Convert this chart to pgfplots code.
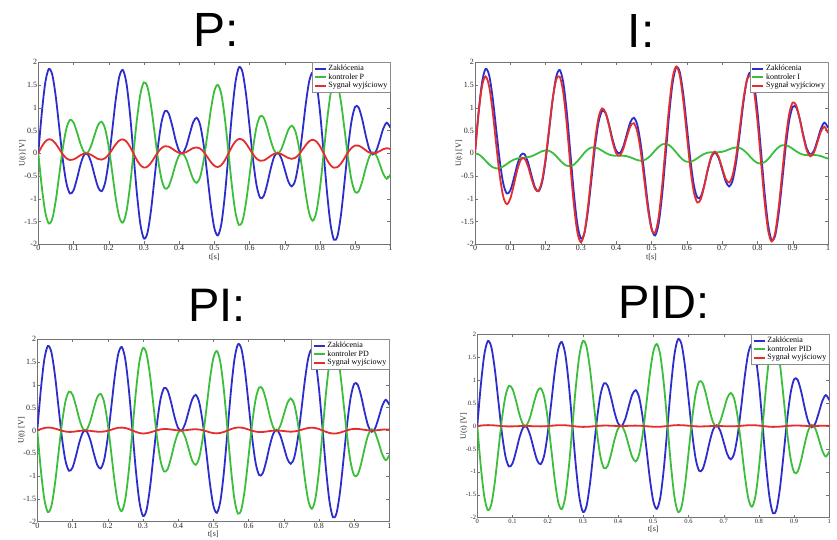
\documentclass[border=0pt]{standalone}
\usepackage{fontspec}
\setmainfont{Liberation Serif}
\newfontfamily\titlefont{Liberation Sans}
\usepackage{pgfplots}
\usepackage{pgfplotstable}
\pgfplotsset{compat=1.18}
\definecolor{mblue}{RGB}{45,45,205}
\definecolor{mgreen}{RGB}{60,190,60}
\definecolor{mred}{RGB}{228,45,45}

\pgfplotstableread{
t x gP rP gI rI gPI rPI gPID rPID
0.00 0 0 0 0 0 0 0 0 0
0.01 0.891 -0.742 0.149 -0.023 0.868 -0.860 0.031 -0.882 0.009
0.02 1.561 -1.301 0.260 -0.083 1.479 -1.506 0.055 -1.545 0.016
0.03 1.853 -1.544 0.309 -0.164 1.690 -1.788 0.065 -1.834 0.019
0.04 1.718 -1.431 0.286 -0.244 1.473 -1.658 0.060 -1.701 0.017
0.05 1.223 -1.019 0.204 -0.305 0.918 -1.180 0.043 -1.211 0.012
0.06 0.531 -0.442 0.089 -0.333 0.198 -0.512 0.019 -0.526 0.005
0.07 -0.157 0.131 -0.026 -0.326 -0.483 0.152 -0.005 0.155 -0.002
0.08 -0.662 0.551 -0.111 -0.289 -0.951 0.639 -0.023 0.655 -0.007
0.09 -0.883 0.735 -0.147 -0.236 -1.118 0.852 -0.031 0.874 -0.009
0.10 -0.815 0.679 -0.136 -0.182 -0.997 0.786 -0.029 0.807 -0.008
0.11 -0.554 0.461 -0.093 -0.139 -0.693 0.535 -0.019 0.548 -0.006
0.12 -0.245 0.204 -0.041 -0.113 -0.358 0.236 -0.009 0.243 -0.002
0.13 -0.036 0.030 -0.006 -0.101 -0.137 0.035 -0.001 0.036 0
0.14 -0.018 0.015 -0.003 -0.096 -0.114 0.017 -0.001 0.018 0
0.15 -0.195 0.162 -0.033 -0.087 -0.282 0.188 -0.007 0.193 -0.002
0.16 -0.487 0.406 -0.081 -0.066 -0.553 0.470 -0.017 0.482 -0.005
0.17 -0.749 0.624 -0.125 -0.032 -0.781 0.723 -0.026 0.742 -0.007
0.18 -0.833 0.694 -0.139 0.009 -0.824 0.804 -0.029 0.825 -0.008
0.19 -0.641 0.534 -0.107 0.046 -0.595 0.619 -0.022 0.635 -0.006
0.20 -0.164 0.137 -0.027 0.064 -0.100 0.158 -0.006 0.162 -0.002
0.21 0.499 -0.416 0.083 0.053 0.552 -0.482 0.017 -0.494 0.005
0.22 1.181 -0.984 0.197 0.009 1.190 -1.140 0.041 -1.169 0.012
0.23 1.680 -1.399 0.281 -0.062 1.617 -1.621 0.059 -1.663 0.017
0.24 1.831 -1.525 0.306 -0.147 1.684 -1.767 0.064 -1.813 0.018
0.25 1.560 -1.299 0.261 -0.224 1.336 -1.505 0.055 -1.544 0.016
0.26 0.907 -0.755 0.151 -0.274 0.632 -0.875 0.032 -0.898 0.009
0.27 0.023 -0.019 0.004 -0.284 -0.261 -0.022 0.001 -0.023 0
0.28 -0.871 0.726 -0.145 -0.249 -1.120 0.841 -0.030 0.862 -0.009
0.29 -1.559 1.299 -0.260 -0.176 -1.735 1.504 -0.055 1.543 -0.016
0.30 -1.872 1.559 -0.313 -0.082 -1.954 1.806 -0.066 1.853 -0.019
0.31 -1.754 1.461 -0.293 0.012 -1.741 1.693 -0.061 1.736 -0.018
0.32 -1.265 1.054 -0.211 0.087 -1.178 1.221 -0.044 1.252 -0.013
0.33 -0.564 0.470 -0.094 0.127 -0.437 0.544 -0.020 0.558 -0.006
0.34 0.147 -0.122 0.025 0.131 0.278 -0.142 0.005 -0.146 0.001
0.35 0.682 -0.568 0.114 0.103 0.785 -0.658 0.024 -0.675 0.007
0.36 0.930 -0.775 0.155 0.057 0.987 -0.897 0.033 -0.921 0.009
0.37 0.882 -0.735 0.147 0.009 0.891 -0.851 0.031 -0.873 0.009
0.38 0.621 -0.517 0.104 -0.028 0.593 -0.599 0.022 -0.615 0.006
0.39 0.294 -0.245 0.049 -0.049 0.245 -0.284 0.010 -0.291 0.003
0.40 0.056 -0.047 0.009 -0.055 0.001 -0.054 0.002 -0.055 0.001
0.41 0.001 -0.001 0 -0.053 -0.051 -0.001 0 -0.001 0
0.42 0.147 -0.122 0.025 -0.053 0.094 -0.142 0.005 -0.146 0.001
0.43 0.420 -0.350 0.070 -0.064 0.356 -0.405 0.015 -0.416 0.004
0.44 0.681 -0.567 0.114 -0.088 0.593 -0.657 0.024 -0.674 0.007
0.45 0.781 -0.651 0.130 -0.120 0.661 -0.754 0.027 -0.773 0.008
0.46 0.617 -0.514 0.103 -0.150 0.468 -0.595 0.022 -0.611 0.006
0.47 0.173 -0.144 0.029 -0.163 0.011 -0.167 0.006 -0.171 0.002
0.48 -0.466 0.388 -0.078 -0.148 -0.614 0.450 -0.016 0.461 -0.005
0.49 -1.137 0.947 -0.190 -0.101 -1.238 1.097 -0.040 1.126 -0.011
0.50 -1.640 1.366 -0.274 -0.027 -1.667 1.583 -0.057 1.624 -0.016
0.51 -1.806 1.504 -0.302 0.060 -1.747 1.743 -0.063 1.788 -0.018
0.52 -1.555 1.295 -0.260 0.140 -1.415 1.501 -0.054 1.539 -0.016
0.53 -0.921 0.767 -0.154 0.195 -0.725 0.889 -0.032 0.912 -0.009
0.54 -0.046 0.038 -0.008 0.210 0.164 0.044 -0.002 0.046 0
0.55 0.855 -0.712 0.143 0.179 1.034 -0.825 0.030 -0.846 0.009
0.56 1.557 -1.297 0.260 0.110 1.667 -1.503 0.054 -1.541 0.016
0.57 1.889 -1.574 0.315 0.019 1.908 -1.823 0.066 -1.870 0.019
0.58 1.787 -1.489 0.298 -0.073 1.714 -1.724 0.063 -1.769 0.018
0.59 1.305 -1.087 0.218 -0.147 1.159 -1.259 0.046 -1.292 0.013
0.60 0.597 -0.497 0.100 -0.186 0.411 -0.576 0.021 -0.591 0.006
0.61 -0.133 0.111 -0.022 -0.188 -0.321 0.128 -0.005 0.132 -0.001
0.62 -0.699 0.582 -0.117 -0.157 -0.856 0.675 -0.024 0.692 -0.007
0.63 -0.975 0.812 -0.163 -0.107 -1.083 0.941 -0.034 0.965 -0.010
0.64 -0.945 0.787 -0.158 -0.054 -0.999 0.912 -0.033 0.936 -0.009
0.65 -0.687 0.572 -0.115 -0.011 -0.698 0.663 -0.024 0.680 -0.007
0.66 -0.346 0.288 -0.058 0.015 -0.332 0.334 -0.012 0.343 -0.003
0.67 -0.077 0.064 -0.013 0.024 -0.053 0.074 -0.003 0.076 -0.001
0.68 0.014 -0.012 0.002 0.023 0.037 -0.014 0 -0.014 0
0.69 -0.101 0.084 -0.017 0.024 -0.078 0.097 -0.004 0.100 -0.001
0.70 -0.352 0.293 -0.059 0.033 -0.319 0.340 -0.012 0.348 -0.004
0.71 -0.614 0.511 -0.103 0.055 -0.558 0.592 -0.021 0.608 -0.006
0.72 -0.729 0.607 -0.122 0.086 -0.643 0.703 -0.026 0.722 -0.007
0.73 -0.592 0.493 -0.099 0.115 -0.477 0.571 -0.021 0.586 -0.006
0.74 -0.181 0.151 -0.030 0.129 -0.051 0.175 -0.006 0.179 -0.002
0.75 0.435 -0.362 0.073 0.117 0.552 -0.420 0.015 -0.431 0.004
0.76 1.092 -0.910 0.182 0.074 1.166 -1.054 0.038 -1.081 0.011
0.77 1.597 -1.330 0.267 0.004 1.601 -1.541 0.056 -1.581 0.016
0.78 1.779 -1.482 0.297 -0.080 1.698 -1.717 0.062 -1.761 0.018
0.79 1.549 -1.290 0.259 -0.159 1.390 -1.495 0.054 -1.534 0.015
0.80 0.934 -0.778 0.156 -0.213 0.721 -0.901 0.033 -0.925 0.009
0.81 0.068 -0.057 0.011 -0.228 -0.160 -0.066 0.002 -0.067 0.001
0.82 -0.836 0.696 -0.140 -0.197 -1.033 0.807 -0.029 0.828 -0.008
0.83 -1.550 1.291 -0.259 -0.128 -1.679 1.496 -0.054 1.535 -0.016
0.84 -1.902 1.584 -0.318 -0.036 -1.938 1.835 -0.067 1.883 -0.019
0.85 -1.816 1.513 -0.303 0.058 -1.758 1.752 -0.064 1.798 -0.018
0.86 -1.344 1.120 -0.224 0.134 -1.210 1.297 -0.047 1.331 -0.013
0.87 -0.629 0.524 -0.105 0.176 -0.453 0.607 -0.022 0.623 -0.006
0.88 0.123 -0.102 0.021 0.179 0.302 -0.119 0.004 -0.122 0.001
0.89 0.714 -0.595 0.119 0.149 0.863 -0.689 0.025 -0.707 0.007
0.90 1.019 -0.849 0.170 0.098 1.117 -0.983 0.036 -1.009 0.010
0.91 1.007 -0.839 0.168 0.043 1.050 -0.972 0.035 -0.997 0.010
0.92 0.753 -0.627 0.126 -0.003 0.750 -0.727 0.026 -0.745 0.008
0.93 0.400 -0.333 0.067 -0.031 0.369 -0.386 0.014 -0.396 0.004
0.94 0.100 -0.083 0.017 -0.041 0.059 -0.097 0.004 -0.099 0.001
0.95 -0.027 0.022 -0.005 -0.040 -0.067 0.026 -0.001 0.027 0
0.96 0.054 -0.045 0.009 -0.038 0.016 -0.052 0.002 -0.053 0.001
0.97 0.286 -0.238 0.048 -0.044 0.242 -0.276 0.010 -0.283 0.003
0.98 0.542 -0.451 0.091 -0.062 0.480 -0.523 0.019 -0.537 0.005
0.99 0.673 -0.561 0.112 -0.090 0.583 -0.649 0.024 -0.666 0.007
1.00 0.564 -0.470 0.094 -0.116 0.448 -0.544 0.020 -0.558 0.006
}\data

\pgfplotsset{
  panel/.style={
    scale only axis, width=352pt, height=182pt,
    xmin=0, xmax=1, ymin=-2, ymax=2,
    axis line style={black!55, line width=0.5pt},
    tick style={black!55, line width=0.4pt},
    tick align=inside, major tick length=3pt,
    xtick={0,0.1,0.2,0.3,0.4,0.5,0.6,0.7,0.8,0.9,1},
    xticklabels={0,0.1,0.2,0.3,0.4,0.5,0.6,0.7,0.8,0.9,1},
    ytick={-2,-1.5,-1,-0.5,0,0.5,1,1.5,2},
    yticklabels={-2,-1.5,-1,-0.5,0,0.5,1,1.5,2},
    tick label style={font=\fontsize{8}{9}\selectfont, inner sep=1pt, text=black!85},
    xlabel={t[s]}, ylabel={U(t) [V]},
    label style={font=\fontsize{8}{9}\selectfont, text=black!85},
    xlabel style={inner sep=0pt, yshift=-1.5pt},
    ylabel style={inner sep=0pt, yshift=-3pt},
    legend cell align=left,
    legend style={at={(1,1)}, anchor=north east, font=\fontsize{8}{9}\selectfont,
      draw=black!45, inner sep=1pt, outer sep=0pt, row sep=-2.5pt},
    legend image code/.code={\draw[##1, line width=1.8pt] (0pt,0pt) -- (11pt,0pt);},
    every axis plot/.append style={line width=1.8pt, smooth},
  }
}

\begin{document}
\begin{tikzpicture}[x=1pt,y=1pt]
\path[use as bounding box] (0,0) rectangle (837,540);

\node[font=\fontsize{48}{48}\titlefont, anchor=base] at (216,493) {P:};
\node[font=\fontsize{48}{48}\titlefont, anchor=base] at (641,492) {I:};
\node[font=\fontsize{47}{47}\titlefont, anchor=base] at (217,218) {PI:};
\node[font=\fontsize{47}{47}\titlefont, anchor=base] at (664,221) {PID:};

\begin{axis}[panel, at={(38.3pt,295.7pt)}, anchor=south west]
\addplot[mblue] table[x=t, y=x] {\data};
\addplot[mgreen] table[x=t, y=gP] {\data};
\addplot[mred] table[x=t, y=rP] {\data};
\legend{Zakłócenia, kontroler P, Sygnał wyjściowy}
\end{axis}

\begin{axis}[panel, width=353pt, at={(475pt,295.7pt)}, anchor=south west]
\addplot[mblue] table[x=t, y=x] {\data};
\addplot[mgreen] table[x=t, y=gI] {\data};
\addplot[mred] table[x=t, y=rI] {\data};
\legend{Zakłócenia, kontroler I, Sygnał wyjściowy}
\end{axis}

\begin{axis}[panel, height=182.4pt, at={(37.3pt,18.3pt)}, anchor=south west]
\addplot[mblue] table[x=t, y=x] {\data};
\addplot[mgreen] table[x=t, y=gPI] {\data};
\addplot[mred] table[x=t, y=rPI] {\data};
\legend{Zakłócenia, kontroler PD, Sygnał wyjściowy}
\end{axis}

\begin{axis}[panel, height=183.4pt, at={(477.3pt,22.3pt)}, anchor=south west,
  tick label style={font=\fontsize{6.5}{7}\selectfont}]
\addplot[mblue] table[x=t, y=x] {\data};
\addplot[mgreen] table[x=t, y=gPID] {\data};
\addplot[mred] table[x=t, y=rPID] {\data};
\legend{Zakłócenia, kontroler PID, Sygnał wyjściowy}
\end{axis}
\end{tikzpicture}
\end{document}
